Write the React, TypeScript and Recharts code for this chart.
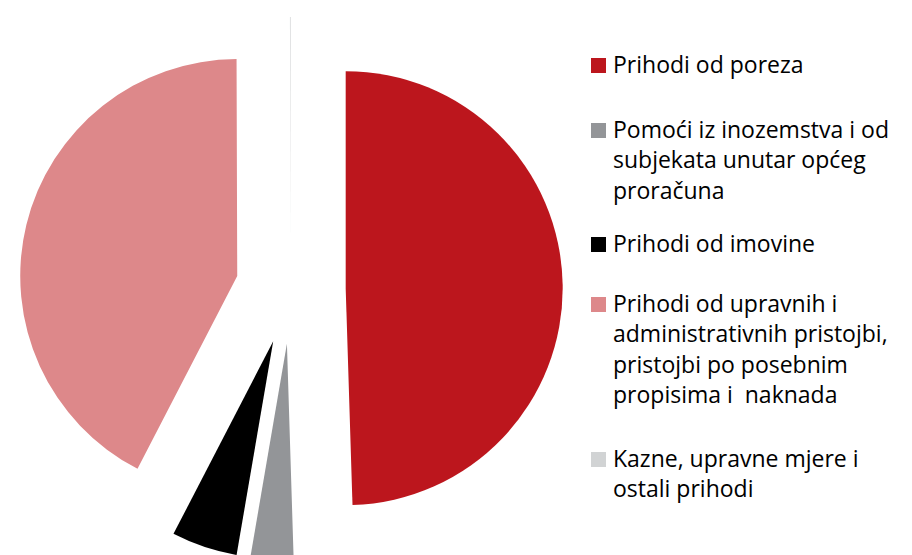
import React from 'react';
import { PieChart, Pie, Cell, Sector, Legend } from 'recharts';

// revenue structure, share of total (%)
const CATEGORIES = [
  'Prihodi od poreza',
  'Pomoći iz inozemstva i od subjekata unutar općeg proračuna',
  'Prihodi od imovine',
  'Prihodi od upravnih i administrativnih pristojbi, pristojbi po posebnim propisima i  naknada',
  'Kazne, upravne mjere i ostali prihodi',
];
const SHARES = [49.5, 3.2, 4.9, 42.35, 0.05];
const COLORS = ['#bc161d', '#939598', '#000000', '#dd888a', '#d1d3d4'];

const data = CATEGORIES.map((name, i) => ({ name, value: SHARES[i] }));

const EXPLODE = 55;
// top of each legend entry (px), Excel spaces them unevenly
const LEGEND_TOPS = [49, 114, 228, 288, 443];

const ExplodedSector = (props: any) => {
  const { cx, cy, midAngle, innerRadius, outerRadius, startAngle, endAngle, fill } = props;
  const rad = (-midAngle * Math.PI) / 180;
  return (
    <Sector
      cx={cx + EXPLODE * Math.cos(rad)}
      cy={cy + EXPLODE * Math.sin(rad)}
      innerRadius={innerRadius}
      outerRadius={outerRadius}
      startAngle={startAngle}
      endAngle={endAngle}
      fill={fill}
      stroke="none"
    />
  );
};

const RevenueLegend = () => (
  <div style={{ position: 'relative', width: 320, height: 555 }}>
    {CATEGORIES.map((name, i) => (
      <div
        key={name}
        style={{ position: 'absolute', top: LEGEND_TOPS[i], left: 0, display: 'flex', alignItems: 'flex-start' }}
      >
        <span
          style={{ width: 15, height: 15, marginTop: 9, marginRight: 7, background: COLORS[i], flexShrink: 0 }}
        />
        <span
          style={{
            width: 295,
            fontFamily: '"Open Sans", sans-serif',
            fontSize: 23,
            lineHeight: '30.3px',
            color: '#000',
            whiteSpace: 'pre-wrap',
          }}
        >
          {name}
        </span>
      </div>
    ))}
  </div>
);

export default function App() {
  return (
    <div style={{ position: 'absolute', left: 0, top: 0, width: 912, height: 555, background: '#fff' }}>
      <PieChart width={912} height={555} margin={{ top: 0, right: 0, bottom: 0, left: 0 }}>
        <Pie
          data={data}
          dataKey="value"
          nameKey="name"
          cx={290.7}
          cy={289}
          outerRadius={217}
          startAngle={90}
          endAngle={-270}
          stroke="none"
          shape={ExplodedSector}
          activeShape={ExplodedSector}
          isAnimationActive={false}
        >
          {data.map((d, i) => (
            <Cell key={d.name} fill={COLORS[i]} />
          ))}
        </Pie>
        <Legend
          content={RevenueLegend}
          wrapperStyle={{ position: 'absolute', left: 591, top: 0, width: 320, height: 555 }}
        />
      </PieChart>
    </div>
  );
}
